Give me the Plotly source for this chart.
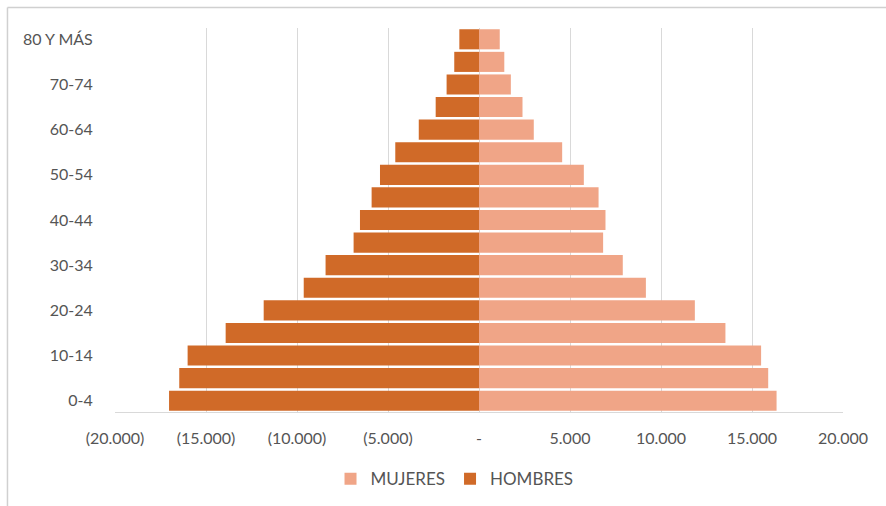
import plotly.graph_objects as go

age_groups = ["0-4", "5-9", "10-14", "15-19", "20-24", "25-29", "30-34", "35-39",
              "40-44", "45-49", "50-54", "55-59", "60-64", "65-69", "70-74", "75-79", "80 Y MÁS"]
# values listed from 0-4 upward
mujeres = [16350, 15890, 15500, 13540, 11860, 9170, 7900, 6820, 6950, 6570, 5760, 4570, 3010, 2390, 1750, 1390, 1140]
hombres = [-17030, -16470, -16010, -13920, -11830, -9630, -8430, -6890, -6540, -5900, -5440, -4600, -3310, -2380, -1780, -1360, -1080]

x_tickvals = [-20000, -15000, -10000, -5000, 0, 5000, 10000, 15000, 20000]
x_ticktext = ["(20.000)", "(15.000)", "(10.000)", "(5.000)", "-", "5.000", "10.000", "15.000", "20.000"]
y_tickvals = age_groups[::2]

font_family = "Lato, 'Open Sans', sans-serif"
txt = "#555555"

fig = go.Figure()
fig.add_trace(go.Bar(y=age_groups, x=mujeres, orientation="h", name="MUJERES",
                     marker=dict(color="#F0A587", line=dict(width=0))))
fig.add_trace(go.Bar(y=age_groups, x=hombres, orientation="h", name="HOMBRES",
                     marker=dict(color="#D06A28", line=dict(width=0))))

fig.update_layout(
    width=886, height=506,
    margin=dict(l=115, r=43, t=28, b=94, autoexpand=False),
    barmode="relative", bargap=0.11,
    paper_bgcolor="white", plot_bgcolor="white",
    font=dict(family=font_family, size=16, color=txt),
    showlegend=True,
    legend=dict(orientation="h", xref="container", yref="container",
                x=0.513, xanchor="center", y=0.053, yanchor="middle",
                font=dict(size=17, color=txt), itemwidth=30, traceorder="normal"),
    xaxis=dict(range=[-20000, 20000], tickvals=x_tickvals, ticktext=x_ticktext,
               showgrid=True, gridcolor="#D9D9D9", gridwidth=1, zeroline=False,
               showline=True, linecolor="#D9D9D9", linewidth=1,
               ticks="outside", ticklen=12, tickcolor="rgba(0,0,0,0)",
               tickfont=dict(size=16, color=txt), fixedrange=True),
    yaxis=dict(type="category", categoryorder="array", categoryarray=age_groups,
               tickvals=y_tickvals, showgrid=False, zeroline=False, showline=False,
               ticks="outside", ticklen=18, tickcolor="rgba(0,0,0,0)",
               tickfont=dict(size=16, color=txt), fixedrange=True),
    shapes=[
        dict(type="line", xref="paper", yref="paper", x0=-0.1477, x1=1.2, y0=1.0534, y1=1.0534,
             line=dict(color="#D0D0D0", width=1.5)),
        dict(type="line", xref="paper", yref="paper", x0=-0.1477, x1=-0.1477, y0=1.0534, y1=-0.3,
             line=dict(color="#D0D0D0", width=1.5)),
    ],
)

fig.write_html("out.html")
